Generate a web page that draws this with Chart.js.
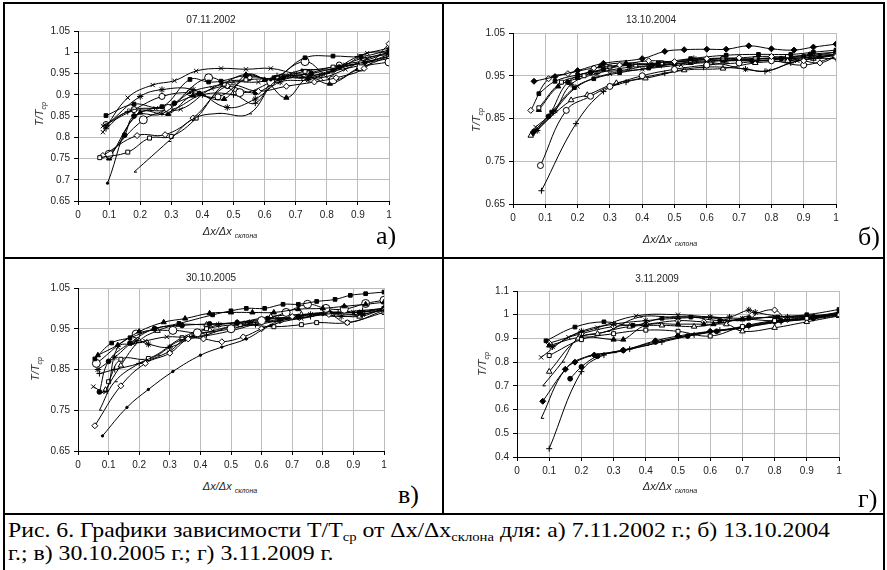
<!DOCTYPE html>
<html>
<head>
<meta charset="utf-8">
<script src="https://cdn.jsdelivr.net/npm/chart.js@4.4.1/dist/chart.umd.min.js"></script>
<style>
    body { margin: 0; background: #fff; width: 887px; height: 570px; position: relative; overflow: hidden; font-family: "Liberation Sans", Arial, sans-serif; }
    .ln { position: absolute; background: #000; }
    canvas { position: absolute; }
    .t { position: absolute; font-size: 10px; color: #222; transform: translate(-50%, -50%); white-space: nowrap; }
    .ax { font-style: italic; font-size: 11px; }
    .ax sub { font-size: 7px; vertical-align: -3px; }
    .yl { transform: translate(-50%, -50%) rotate(-90deg); }
    .let { position: absolute; font-family: "Liberation Serif", serif; font-size: 26px; color: #000; white-space: nowrap; }
    .cap { position: absolute; left: 8px; font-family: "Liberation Serif", serif; font-size: 21px; line-height: 23px; color: #000; white-space: nowrap; transform-origin: 0 0; }
    .cap sub { font-size: 13px; vertical-align: -4px; line-height: 0; }
</style>
</head>
<body>
<div class="ln" style="left:3px;top:2px;width:882px;height:2px"></div>
<div class="ln" style="left:3px;top:2px;width:2px;height:568px"></div>
<div class="ln" style="left:883px;top:2px;width:2px;height:568px"></div>
<div class="ln" style="left:442px;top:2px;width:2px;height:513px"></div>
<div class="ln" style="left:3px;top:257px;width:882px;height:2px"></div>
<div class="ln" style="left:3px;top:513px;width:882px;height:2px"></div>

<div class="cap" id="cap1" style="top:519px">Рис. 6. Графики зависимости T/T<sub>ср</sub> от Δx/Δx<sub>склона</sub> для: а) 7.11.2002 г.; б) 13.10.2004</div>
<div class="cap" id="cap2" style="top:542px">г.; в) 30.10.2005 г.; г) 3.11.2009 г.</div>

<script>
// ticks
const xTicks = [0, 0.1, 0.2, 0.3, 0.4, 0.5, 0.6, 0.7, 0.8, 0.9, 1];
const yTicksA = [0.65, 0.7, 0.75, 0.8, 0.85, 0.9, 0.95, 1, 1.05];
const yTicksB = [0.65, 0.75, 0.85, 0.95, 1.05];
const yTicksC = [0.65, 0.75, 0.85, 0.95, 1.05];
const yTicksD = [0.4, 0.5, 0.6, 0.7, 0.8, 0.9, 1, 1.1];

const titles = ['07.11.2002', '13.10.2004', '30.10.2005', '3.11.2009'];
const letters = ['а)', 'б)', 'в)', 'г)'];

// 07.11.2002
const aSq = [[0.09,0.851],[0.18,0.878],[0.27,0.872],[0.36,0.936],[0.42,0.93],[0.46,0.932],[0.54,0.945],[0.63,0.94],[0.73,0.987],[0.82,0.991],[0.91,0.99],[1.0,1.005]];
const aX1 = [[0.08,0.812],[0.16,0.893],[0.24,0.923],[0.31,0.933],[0.38,0.956],[0.46,0.962],[0.54,0.96],[0.62,0.962],[0.70,0.95],[0.78,0.948],[0.86,0.97],[0.93,0.998],[1.0,1.0]];
const aDot = [[0.095,0.692],[0.18,0.848],[0.27,0.855],[0.36,0.905],[0.46,0.925],[0.54,0.948],[0.62,0.935],[0.72,0.958],[0.82,0.96],[0.91,0.985],[1.0,0.995]];
const aDash = [[0.18,0.718],[0.29,0.79],[0.37,0.843],[0.45,0.856],[0.55,0.855],[0.64,0.935],[0.73,0.94],[0.82,0.958],[0.91,0.975],[1.0,0.99]];
const aOSq = [[0.07,0.752],[0.16,0.765],[0.23,0.798],[0.30,0.802],[0.38,0.845],[0.47,0.925],[0.54,0.935],[0.64,0.94],[0.73,0.955],[0.82,0.965],[0.91,0.975],[1.0,0.99]];
const aODi = [[0.08,0.757],[0.19,0.804],[0.28,0.806],[0.37,0.845],[0.48,0.921],[0.58,0.908],[0.67,0.92],[0.76,0.93],[0.83,0.94],[0.92,0.962],[1.0,1.02]];
const aOCi = [[0.10,0.76],[0.21,0.841],[0.29,0.868],[0.42,0.94],[0.52,0.905],[0.62,0.93],[0.73,0.978],[0.82,0.935],[0.91,0.965],[1.0,0.977]];
const aTri = [[0.10,0.75],[0.20,0.858],[0.29,0.855],[0.37,0.898],[0.47,0.89],[0.54,0.947],[0.60,0.935],[0.67,0.893],[0.74,0.94],[0.81,0.926],[0.90,0.96],[1.0,0.99]];
const aCi = [[0.10,0.754],[0.15,0.805],[0.18,0.85],[0.31,0.88],[0.39,0.903],[0.48,0.92],[0.57,0.905],[0.66,0.94],[0.75,0.95],[0.84,0.965],[0.92,0.975],[1.0,0.985]];
const aStar = [[0.09,0.827],[0.20,0.896],[0.27,0.912],[0.37,0.912],[0.48,0.87],[0.57,0.89],[0.65,0.93],[0.74,0.935],[0.82,0.955],[0.91,0.97],[1.0,0.995]];
const aX2 = [[0.08,0.826],[0.17,0.863],[0.25,0.868],[0.33,0.866],[0.43,0.915],[0.5,0.93],[0.58,0.93],[0.68,0.945],[0.78,0.94],[0.86,0.96],[0.93,0.985],[1.0,1.0]];
const aOCi2 = [[0.09,0.83],[0.18,0.865],[0.27,0.896],[0.36,0.905],[0.45,0.895],[0.55,0.94],[0.64,0.935],[0.74,0.95],[0.84,0.97],[0.92,0.98],[1.0,1.0]];
const aPlus = [[0.09,0.82],[0.16,0.86],[0.30,0.865],[0.40,0.9],[0.50,0.9],[0.57,0.88],[0.64,0.945],[0.72,0.94],[0.80,0.95],[0.9,0.99],[1.0,1.01]];

// 13.10.2004
const bDi = [[0.065,0.937],[0.13,0.948],[0.20,0.962],[0.28,0.979],[0.40,0.99],[0.47,1.007],[0.53,1.011],[0.60,1.012],[0.66,1.012],[0.73,1.02],[0.80,1.013],[0.87,1.01],[0.93,1.017],[1.0,1.024]];
const bODi = [[0.055,0.869],[0.11,0.943],[0.17,0.955],[0.25,0.968],[0.33,0.975],[0.42,0.985],[0.5,0.983],[0.6,0.99],[0.7,0.992],[0.8,0.995],[0.9,0.985],[0.95,0.98],[1.0,0.995]];
const bSq = [[0.08,0.908],[0.13,0.937],[0.20,0.952],[0.28,0.965],[0.36,0.975],[0.45,0.98],[0.55,0.99],[0.66,0.998],[0.76,1.0],[0.86,1.0],[0.93,1.005],[1.0,1.01]];
const bOCi = [[0.085,0.74],[0.165,0.869],[0.24,0.902],[0.30,0.925],[0.4,0.95],[0.5,0.965],[0.6,0.975],[0.7,0.98],[0.8,0.985],[0.9,0.975],[1.0,0.995]];
const bPlus = [[0.088,0.681],[0.195,0.838],[0.28,0.913],[0.35,0.935],[0.47,0.956],[0.59,0.97],[0.72,0.966],[0.78,0.96],[0.86,0.98],[0.93,0.99],[1.0,0.99]];
const bOTri = [[0.055,0.81],[0.18,0.893],[0.23,0.905],[0.32,0.933],[0.41,0.944],[0.53,0.963],[0.65,0.967],[0.75,0.98],[0.85,0.985],[0.93,0.99],[1.0,1.0]];
const bX = [[0.07,0.83],[0.12,0.862],[0.2,0.925],[0.3,0.955],[0.4,0.965],[0.52,0.975],[0.62,0.98],[0.72,0.965],[0.79,0.962],[0.88,0.985],[1.0,0.997]];
const bSq2 = [[0.06,0.815],[0.12,0.865],[0.19,0.922],[0.25,0.943],[0.33,0.957],[0.42,0.968],[0.5,0.978],[0.6,0.985],[0.7,0.988],[0.8,0.99],[0.9,0.995],[1.0,1.005]];
const bOSq = [[0.08,0.875],[0.15,0.935],[0.22,0.95],[0.3,0.97],[0.38,0.975],[0.46,0.98],[0.55,0.985],[0.65,0.99],[0.75,0.99],[0.85,0.995],[1.0,1.0]];
const bTri = [[0.08,0.87],[0.14,0.925],[0.2,0.945],[0.27,0.972],[0.35,0.98],[0.45,0.975],[0.55,0.98],[0.65,0.985],[0.75,0.985],[0.85,0.99],[0.95,0.995],[1.0,1.0]];
const bCi = [[0.065,0.82],[0.11,0.855],[0.17,0.935],[0.24,0.958],[0.33,0.962],[0.43,0.975],[0.55,0.985],[0.65,0.99],[0.74,0.985],[0.83,0.99],[0.92,1.0],[1.0,1.005]];
const bStar = [[0.075,0.822],[0.13,0.868],[0.18,0.93],[0.26,0.955],[0.36,0.97],[0.46,0.975],[0.56,0.99],[0.66,0.985],[0.76,0.99],[0.86,0.99],[0.95,0.995],[1.0,1.0]];

// 30.10.2005
const cSq = [[0.055,0.876],[0.11,0.915],[0.17,0.928],[0.25,0.95],[0.33,0.963],[0.44,0.984],[0.5,0.994],[0.55,1.0],[0.61,1.0],[0.67,1.01],[0.72,1.01],[0.78,1.017],[0.84,1.022],[0.89,1.032],[0.94,1.036],[1.0,1.04]];
const cTri = [[0.065,0.885],[0.13,0.91],[0.2,0.943],[0.28,0.966],[0.35,0.975],[0.43,0.988],[0.5,0.99],[0.57,0.99],[0.64,0.99],[0.72,0.998],[0.8,1.0],[0.87,1.005],[0.94,1.01],[1.0,1.015]];
const cOCi = [[0.06,0.865],[0.19,0.937],[0.31,0.946],[0.39,0.94],[0.5,0.95],[0.6,0.97],[0.68,0.99],[0.75,1.01],[0.81,1.0],[0.87,0.998],[0.94,1.012],[1.0,1.02]];
const cDot = [[0.08,0.687],[0.16,0.757],[0.23,0.801],[0.31,0.845],[0.4,0.885],[0.47,0.905],[0.55,0.925],[0.63,0.958],[0.72,0.975],[0.8,0.985],[0.9,0.99],[1.0,0.995]];
const cODi = [[0.055,0.712],[0.14,0.81],[0.22,0.865],[0.3,0.89],[0.36,0.925],[0.41,0.925],[0.47,0.918],[0.54,0.93],[0.6,0.95],[0.7,0.98],[0.82,0.985],[0.88,0.965],[1.0,0.995]];
const cDash = [[0.07,0.75],[0.12,0.82],[0.2,0.865],[0.26,0.885],[0.33,0.92],[0.4,0.93],[0.5,0.945],[0.6,0.965],[0.7,0.978],[0.8,0.99],[0.9,0.985],[1.0,0.995]];
const cX = [[0.05,0.808],[0.09,0.795],[0.13,0.905],[0.18,0.913],[0.22,0.92],[0.29,0.93],[0.36,0.93],[0.44,0.945],[0.55,0.965],[0.65,0.975],[0.73,0.975],[0.82,0.99],[0.9,0.99],[1.0,1.0]];
const cCi = [[0.07,0.795],[0.1,0.87],[0.17,0.915],[0.25,0.95],[0.34,0.958],[0.43,0.962],[0.52,0.965],[0.62,0.975],[0.72,0.98],[0.82,0.99],[0.92,0.99],[1.0,1.0]];
const cOSq = [[0.1,0.82],[0.14,0.875],[0.23,0.877],[0.34,0.928],[0.42,0.95],[0.53,0.96],[0.64,0.955],[0.73,0.96],[0.78,0.965],[0.88,0.965],[1.0,0.99]];
const cStar = [[0.065,0.85],[0.12,0.88],[0.19,0.92],[0.23,0.912],[0.3,0.905],[0.38,0.935],[0.46,0.96],[0.56,0.965],[0.66,0.97],[0.76,0.985],[0.86,0.98],[0.93,0.985],[1.0,0.998]];
const cPlus = [[0.07,0.84],[0.12,0.85],[0.2,0.865],[0.3,0.895],[0.35,0.925],[0.42,0.935],[0.5,0.955],[0.58,0.96],[0.66,0.97],[0.76,0.98],[0.85,0.99],[0.93,0.995],[1.0,1.0]];
const cOTri = [[0.09,0.8],[0.14,0.86],[0.2,0.92],[0.26,0.945],[0.33,0.96],[0.42,0.96],[0.52,0.965],[0.63,0.98],[0.73,0.985],[0.83,0.985],[0.92,0.98],[1.0,1.0]];

// 3.11.2009
const dSq = [[0.09,0.89],[0.18,0.948],[0.27,0.97],[0.36,0.955],[0.45,0.985],[0.54,0.99],[0.63,0.975],[0.72,0.985],[0.81,0.99],[0.9,1.0],[1.0,1.022]];
const dX = [[0.075,0.82],[0.16,0.905],[0.25,0.945],[0.37,0.995],[0.5,1.0],[0.6,0.99],[0.7,0.985],[0.8,0.99],[0.92,0.995],[1.0,1.01]];
const dOSq = [[0.1,0.828],[0.2,0.895],[0.3,0.92],[0.4,0.935],[0.5,0.93],[0.6,0.91],[0.7,0.95],[0.8,0.975],[0.9,0.985],[1.0,1.0]];
const dOTri = [[0.1,0.76],[0.19,0.9],[0.25,0.92],[0.35,0.95],[0.45,0.955],[0.55,0.95],[0.65,0.96],[0.7,0.93],[0.8,0.945],[0.9,0.97],[1.0,0.995]];
const dDash1 = [[0.08,0.7],[0.14,0.8],[0.19,0.9],[0.28,0.93],[0.38,0.99],[0.48,0.99],[0.58,0.99],[0.68,0.975],[0.78,0.99],[0.88,0.995],[1.0,1.0]];
const dDi = [[0.08,0.635],[0.15,0.77],[0.18,0.8],[0.24,0.83],[0.33,0.85],[0.43,0.89],[0.5,0.91],[0.6,0.93],[0.7,0.945],[0.8,0.97],[0.9,0.985],[1.0,1.0]];
const dDash2 = [[0.075,0.563],[0.15,0.77],[0.22,0.825],[0.3,0.84],[0.4,0.87],[0.5,0.905],[0.58,0.925],[0.68,0.94],[0.78,0.965],[0.9,0.98],[1.0,0.995]];
const dPlus = [[0.1,0.435],[0.2,0.76],[0.27,0.83],[0.35,0.855],[0.45,0.885],[0.55,0.915],[0.63,0.935],[0.72,0.95],[0.82,0.97],[0.92,0.985],[1.0,1.0]];
const dCi = [[0.165,0.73],[0.2,0.78],[0.25,0.825],[0.33,0.85],[0.43,0.885],[0.53,0.91],[0.62,0.93],[0.72,0.955],[0.82,0.975],[0.92,0.985],[1.0,1.005]];
const dTri = [[0.1,0.87],[0.2,0.905],[0.3,0.895],[0.33,0.895],[0.4,0.955],[0.5,0.96],[0.58,0.96],[0.61,0.96],[0.7,0.98],[0.8,0.975],[0.9,0.99],[1.0,1.0]];
const dStar = [[0.11,0.865],[0.2,0.93],[0.3,0.96],[0.4,0.975],[0.5,0.985],[0.6,0.99],[0.66,0.99],[0.72,1.02],[0.74,1.01],[0.84,0.99],[0.92,0.99],[1.0,1.01]];
const dODi = [[0.1,0.88],[0.2,0.92],[0.3,0.95],[0.4,0.96],[0.5,0.975],[0.58,0.97],[0.65,0.97],[0.73,1.0],[0.8,1.02],[0.84,0.98],[0.92,0.99],[1.0,1.005]];

// marker looks: [pointStyle, filled, radius]
const M = {
    sq: ['rect', true, 2.6], osq: ['rect', false, 2.8], di: ['rectRot', true, 3], odi: ['rectRot', false, 3],
    ci: ['circle', true, 2.4], oci: ['circle', false, 3], oci2: ['circle', false, 4], tri: ['triangle', true, 3],
    otri: ['triangle', false, 3.2], x: ['crossRot', false, 3], plus: ['cross', false, 3], star: ['star', false, 3.2],
    dash: ['dash', false, 3], dot: ['circle', true, 1.2]
};

const panels = [
    { box: [78, 28, 389, 201], yTicks: yTicksA, series: [[aSq,'sq'],[aX1,'x'],[aDot,'dot'],[aDash,'dash'],[aOSq,'osq'],[aODi,'odi'],[aOCi,'oci2'],[aTri,'tri'],[aCi,'ci'],[aStar,'star'],[aX2,'x'],[aOCi2,'oci'],[aPlus,'plus']],
      title: [211, 19], xl: [230, 232], yl: [40, 114], let: [376, 221] },
    { box: [513, 30, 836, 204], yTicks: yTicksB, series: [[bDi,'di'],[bODi,'odi'],[bSq,'sq'],[bOCi,'oci'],[bPlus,'plus'],[bOTri,'otri'],[bX,'x'],[bSq2,'sq'],[bOSq,'osq'],[bTri,'tri'],[bCi,'ci'],[bStar,'star']],
      title: [651, 19], xl: [670, 240], yl: [477, 120], let: [858, 222] },
    { box: [78, 285, 384, 451], yTicks: yTicksC, series: [[cSq,'sq'],[cTri,'tri'],[cOCi,'oci2'],[cDot,'dot'],[cODi,'odi'],[cDash,'dash'],[cX,'x'],[cCi,'ci'],[cOSq,'osq'],[cStar,'star'],[cPlus,'plus'],[cOTri,'otri']],
      title: [211, 277], xl: [230, 487], yl: [36, 369], let: [398, 480] },
    { box: [517, 288, 839, 457], yTicks: yTicksD, series: [[dSq,'sq'],[dX,'x'],[dOSq,'osq'],[dOTri,'otri'],[dDash1,'dash'],[dDi,'di'],[dDash2,'dash'],[dPlus,'plus'],[dCi,'ci'],[dTri,'tri'],[dStar,'star'],[dODi,'odi']],
      title: [657, 278], xl: [670, 487], yl: [483, 364], let: [858, 484] }
];

function addText(html, cls, x, y) {
    const el = document.createElement('div');
    el.className = cls;
    el.innerHTML = html;
    el.style.left = x + 'px';
    el.style.top = y + 'px';
    document.body.appendChild(el);
}

// stretch the caption so its first line spans the same width as in the figure
const capW = document.getElementById('cap1').getBoundingClientRect().width;
const capScale = 822 / capW;
['cap1', 'cap2'].forEach(id => {
    document.getElementById(id).style.transform = `scaleX(${capScale})`;
});

const fmt = v => String(+v.toFixed(2));

panels.forEach((p, i) => {
    const [L, T, R, B] = p.box;
    const padL = 60, padT = 7, padR = 12, padB = 26;
    const canvas = document.createElement('canvas');
    canvas.width = R - L + padL + padR;
    canvas.height = B - T + padT + padB;
    canvas.style.left = (L - padL) + 'px';
    canvas.style.top = (T - padT) + 'px';
    document.body.appendChild(canvas);

    const datasets = p.series.map(([pts, mk]) => {
        const [style, filled, r] = M[mk];
        return {
            data: pts.map(([x, y]) => ({ x, y })),
            showLine: true,
            tension: 0.4,
            borderColor: '#000',
            borderWidth: 1,
            pointStyle: style,
            pointRadius: r,
            pointBorderWidth: 1,
            pointBorderColor: '#000',
            pointBackgroundColor: filled ? '#000' : '#fff'
        };
    });

    const yt = p.yTicks;
    new Chart(canvas, {
        type: 'scatter',
        data: { datasets },
        options: {
            responsive: false,
            animation: false,
            devicePixelRatio: 1,
            layout: { padding: { left: 0, top: padT, right: padR, bottom: 0 } },
            plugins: { legend: { display: false }, tooltip: { enabled: false } },
            scales: {
                x: {
                    type: 'linear', min: 0, max: 1,
                    afterBuildTicks: s => { s.ticks = xTicks.map(v => ({ value: v })); },
                    afterFit: s => { s.height = padB; },
                    grid: { color: '#bdbdbd', tickLength: 4, tickColor: '#000', lineWidth: 1 },
                    border: { color: '#000', width: 1 },
                    ticks: { callback: fmt, font: { family: 'Liberation Sans', size: 10 }, color: '#222', padding: 4, maxRotation: 0, autoSkip: false }
                },
                y: {
                    type: 'linear', min: yt[0], max: yt[yt.length - 1],
                    afterBuildTicks: s => { s.ticks = yt.map(v => ({ value: v })); },
                    afterFit: s => { s.width = padL; },
                    grid: { color: '#bdbdbd', tickLength: 4, tickColor: '#000', lineWidth: 1 },
                    border: { color: '#000', width: 1 },
                    ticks: { callback: fmt, font: { family: 'Liberation Sans', size: 10 }, color: '#222', padding: 4, autoSkip: false }
                }
            }
        }
    });

    addText(titles[i], 't', p.title[0], p.title[1]);
    addText('Δx/Δx <sub>склона</sub>', 't ax', p.xl[0], p.xl[1]);
    addText('T/T<sub>ср</sub>', 't ax yl', p.yl[0], p.yl[1]);
    addText(letters[i], 'let', p.let[0], p.let[1]);
});
</script>
</body>
</html>
